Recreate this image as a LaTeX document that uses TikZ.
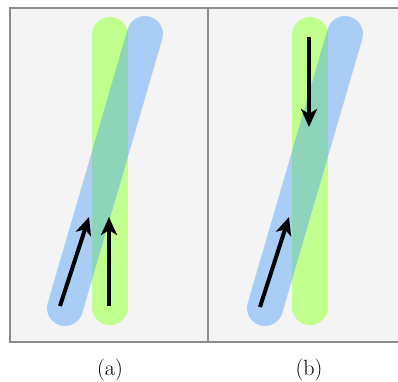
\documentclass[tikz,border=0pt]{standalone}
\usepackage{fontspec}
\usetikzlibrary{arrows.meta}
\definecolor{panelbg}{RGB}{244,244,244}
\definecolor{framegray}{RGB}{140,140,140}
\definecolor{limebar}{RGB}{192,255,142}
\definecolor{skybar}{RGB}{70,153,248}
\tikzset{
  bar/.style={line width=36pt,line cap=round},
  greenbar/.style={bar,draw=limebar},
  bluebar/.style={bar,draw=skybar,draw opacity=.42},
  dirarrow/.style={line width=4pt,-{Stealth[length=18pt,width=16pt,inset=5pt]}},
  caption/.style={font=\fontsize{22}{26}\selectfont},
}
\begin{document}
\begin{tikzpicture}[x=1pt,y=-1pt]
\useasboundingbox (0,0) rectangle (398,381);
\fill[panelbg] (10,8) rectangle (402,342);
\draw[framegray,line width=1.2pt] (10,8) rectangle (208,342) (208,8) rectangle (402,342);
% (a)
\coordinate (ga1) at (110,307); \coordinate (ga2) at (110,35);
\coordinate (ba1) at (65,308); \coordinate (ba2) at (145,34);
\draw[greenbar] (ga1)--(ga2);
\draw[bluebar] (ba1)--(ba2);
\coordinate (pa1) at (60,306); \coordinate (pa2) at (89,217);
\coordinate (qa1) at (109,306); \coordinate (qa2) at (109,217);
\draw[dirarrow] (pa1)--(pa2);
\draw[dirarrow] (qa1)--(qa2);
% (b)
\coordinate (gb1) at (310,307); \coordinate (gb2) at (310,35);
\coordinate (bb1) at (265,308); \coordinate (bb2) at (345,34);
\draw[greenbar] (gb1)--(gb2);
\draw[bluebar] (bb1)--(bb2);
\coordinate (pb1) at (260,307); \coordinate (pb2) at (289,217);
\coordinate (qb1) at (309,37); \coordinate (qb2) at (309,127);
\draw[dirarrow] (pb1)--(pb2);
\draw[dirarrow] (qb1)--(qb2);
\node[caption] (capa) at (110,370) {(a)};
\node[caption] (capb) at (309,370) {(b)};
\end{tikzpicture}
\end{document}
